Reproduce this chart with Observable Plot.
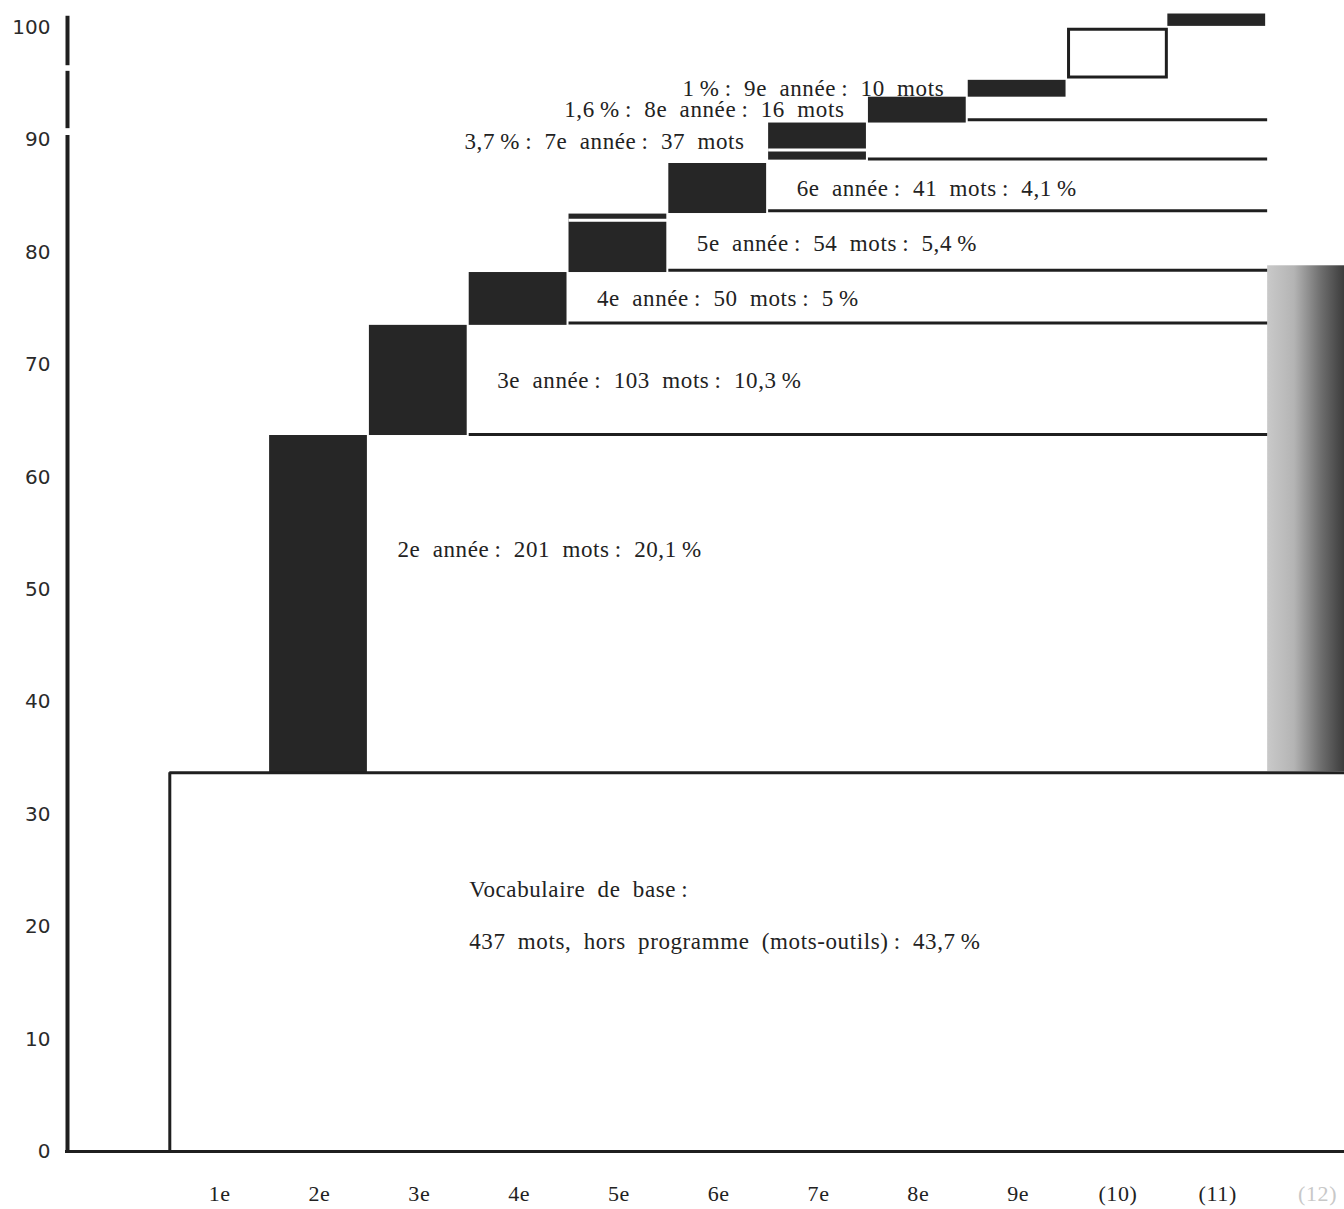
<!DOCTYPE html>
<html>
<head>
<meta charset="utf-8">
<script src="https://cdn.jsdelivr.net/npm/d3@7"></script>
<script src="https://cdn.jsdelivr.net/npm/@observablehq/plot@0.6"></script>
<style>
  html, body { margin: 0; padding: 0; background: #fff; }
  #chart svg { display: block; }
  #chart svg g[font-family*="Liberation Serif"] text { letter-spacing: 0.6px; word-spacing: 6px; }
</style>
</head>
<body>
<div id="chart"></div>
<script>
// ---- data ----
const grades = ["1e", "2e", "3e", "4e", "5e", "6e", "7e", "8e", "9e", "(10)", "(11)", "(12)"];
const yTicks = [0, 10, 20, 30, 40, 50, 60, 70, 80, 90, 100];

// base vocabulary block (outlined), from 1e to the right edge
const baseTop = 33.7;

// filled bars: column, bottom, top (% scale as drawn)
const barGrades = ["2e", "3e", "4e", "5e", "6e", "7e", "8e", "9e", "(11)"];
const barLow    = [33.7, 63.7, 73.5, 78.2, 83.45, 88.2, 91.5, 93.8, 100.1];
const barHigh   = [63.7, 73.5, 78.2, 83.4, 87.9, 91.5, 93.8, 95.3, 101.2];

// white separation lines inside two bars
const splitGrades = ["5e", "7e"];
const splitLevels = [82.85, 89.1];

// open (outlined) box
const openGrades = ["(10)"];
const openLow    = [95.55];
const openHigh   = [99.8];

// shaded column at (12)
const shadeGrades = ["(12)"];
const shadeLow    = [33.8];
const shadeHigh   = [78.8];

// horizontal step lines: level, starting column (they run to the (12) column)
const stepLevels = [63.8, 73.7, 78.4, 83.7, 88.3, 91.8];
const stepFrom   = ["4e", "5e", "6e", "7e", "8e", "9e"];

// y axis line segments (the scan shows small breaks near the top)
const axisLow  = [0, 91.0, 96.6];
const axisHigh = [90.4, 96.1, 101.0];

// annotations attached to bars (U+202F narrow spaces before colons / %)
const noteGrades = ["3e", "4e", "5e", "6e"];
const noteTexts  = [
  "3e année\u202F: 103 mots\u202F: 10,3\u202F%",
  "4e année\u202F: 50 mots\u202F: 5\u202F%",
  "5e année\u202F: 54 mots\u202F: 5,4\u202F%",
  "6e année\u202F: 41 mots\u202F: 4,1\u202F%"
];
const leftNoteGrades = ["7e", "8e", "9e"];
const leftNoteTexts  = [
  "3,7\u202F%\u202F: 7e année\u202F: 37 mots",
  "1,6\u202F%\u202F: 8e année\u202F: 16 mots",
  "1\u202F%\u202F: 9e année\u202F: 10 mots"
];
const note2e = "2e année\u202F: 201 mots\u202F: 20,1\u202F%";
const baseTexts = ["Vocabulaire de base\u202F:", "437 mots, hors programme (mots-outils)\u202F: 43,7\u202F%"];

// ---- derived tables ----
const col = g => grades.indexOf(g);
const bars = barGrades.map((g, i) => ({g, lo: barLow[i], hi: barHigh[i]}));
const splits = splitGrades.map((g, i) => ({g, v: splitLevels[i]}));
const opens = openGrades.map((g, i) => ({g, lo: openLow[i], hi: openHigh[i]}));
const shades = shadeGrades.map((g, i) => ({g, lo: shadeLow[i], hi: shadeHigh[i]}));
const steps = stepLevels.map((v, i) => ({v, from: stepFrom[i]}));
const axisSegs = axisLow.map((lo, i) => ({lo, hi: axisHigh[i]}));
const barOf = g => bars.find(b => b.g === g);
const notes = noteGrades.map((g, i) => ({g, text: noteTexts[i]}));
const leftNotes = leftNoteGrades.map((g, i) => ({g, text: leftNoteTexts[i]}));

const xMin = -1.045, xMax = 11.77;
const serif = "'Liberation Serif', 'DejaVu Serif', serif";
const ink = "#1f1f1f";

const textStyle = {fontFamily: serif, fontSize: 23, fill: "#222"};

const chart = Plot.plot({
  width: 1344,
  height: 1209,
  marginLeft: 65,
  marginRight: 0,
  marginTop: 27,
  marginBottom: 58,
  x: {type: "linear", domain: [xMin, xMax], axis: null},
  y: {type: "linear", domain: [0, 100], axis: null},
  style: {background: "white", overflow: "hidden"},
  marks: [
    // shaded column
    Plot.rect(shades, {x1: d => col(d.g), x2: xMax, y1: "lo", y2: "hi", fill: "url(#shade)"}),
    // filled bars
    Plot.rect(bars, {x1: d => col(d.g), x2: d => col(d.g) + 1, y1: "lo", y2: "hi", fill: "#262626", insetRight: 2}),
    // white splits
    Plot.ruleY(splits, {y: "v", x1: d => col(d.g), x2: d => col(d.g) + 1, stroke: "white", strokeWidth: 3}),
    // open box
    Plot.rect(opens, {x1: d => col(d.g), x2: d => col(d.g) + 1, y1: "lo", y2: "hi", fill: "none", stroke: ink, strokeWidth: 3, insetLeft: 1, insetRight: 1}),
    // step lines
    Plot.ruleY(steps, {y: "v", x1: d => col(d.from), x2: col("(12)"), stroke: ink, strokeWidth: 3}),
    // base block outline
    Plot.ruleY([baseTop], {x1: col("1e"), x2: xMax, stroke: ink, strokeWidth: 3}),
    Plot.ruleX([col("1e")], {y1: 0, y2: baseTop, stroke: ink, strokeWidth: 3}),
    // axes lines
    Plot.ruleY([0], {x1: xMin, x2: xMax, stroke: ink, strokeWidth: 3}),
    Plot.ruleX(axisSegs, {x: xMin, y1: "lo", y2: "hi", stroke: ink, strokeWidth: 4, dx: 2}),
    // y tick labels
    Plot.axisY(yTicks, {anchor: "left", tickSize: 0, tickPadding: 15, fontSize: 20, fontFamily: "'DejaVu Sans', sans-serif", fill: "#2a2a2a", label: null}),
    // x tick labels
    Plot.text(grades, {x: (d, i) => i + 0.5, y: 0, dy: 42, text: d => d, fontFamily: serif, fontSize: 22,
      fill: d => d === "(12)" ? "#c8c8c8" : "#222"}),
    // annotations right of bars
    Plot.text(notes, {x: d => col(d.g) + 1, y: d => (barOf(d.g).lo + barOf(d.g).hi) / 2, text: "text",
      textAnchor: "start", dx: 28, ...textStyle}),
    // annotations left of bars
    Plot.text(leftNotes, {x: d => col(d.g), y: d => (barOf(d.g).lo + barOf(d.g).hi) / 2, text: "text",
      textAnchor: "end", dx: -24, ...textStyle}),
    // 2e annotation
    Plot.text([note2e], {x: col("2e") + 1, y: (barOf("2e").lo + barOf("2e").hi) / 2, text: d => d,
      textAnchor: "start", dx: 28, dy: -54, ...textStyle}),
    // base block annotation (two lines, stacked above the block's middle)
    Plot.text(baseTexts, {x: col("4e"), y: baseTop / 2, text: d => d, textAnchor: "start", ...textStyle,
      render: (index, scales, values, dimensions, context, next) => {
        const g = next(index, scales, values, dimensions, context);
        d3.select(g).selectAll("text").attr("transform", (d, i) =>
          `translate(${values.x[index[i]]},${values.y[index[i]] + (i === 0 ? -72 : -20)})`);
        return g;
      }})
  ]
});

// gradient for the shaded column
const svg = d3.select(chart);
const defs = svg.insert("defs", ":first-child");
const grad = defs.append("linearGradient").attr("id", "shade").attr("x1", "0").attr("x2", "1").attr("y1", "0").attr("y2", "0");
grad.append("stop").attr("offset", "0").attr("stop-color", "#c9c9c9");
grad.append("stop").attr("offset", "0.35").attr("stop-color", "#b4b4b4");
grad.append("stop").attr("offset", "0.7").attr("stop-color", "#6e6e6e");
grad.append("stop").attr("offset", "1").attr("stop-color", "#3c3c3c");

document.getElementById("chart").appendChild(chart);
</script>
</body>
</html>
